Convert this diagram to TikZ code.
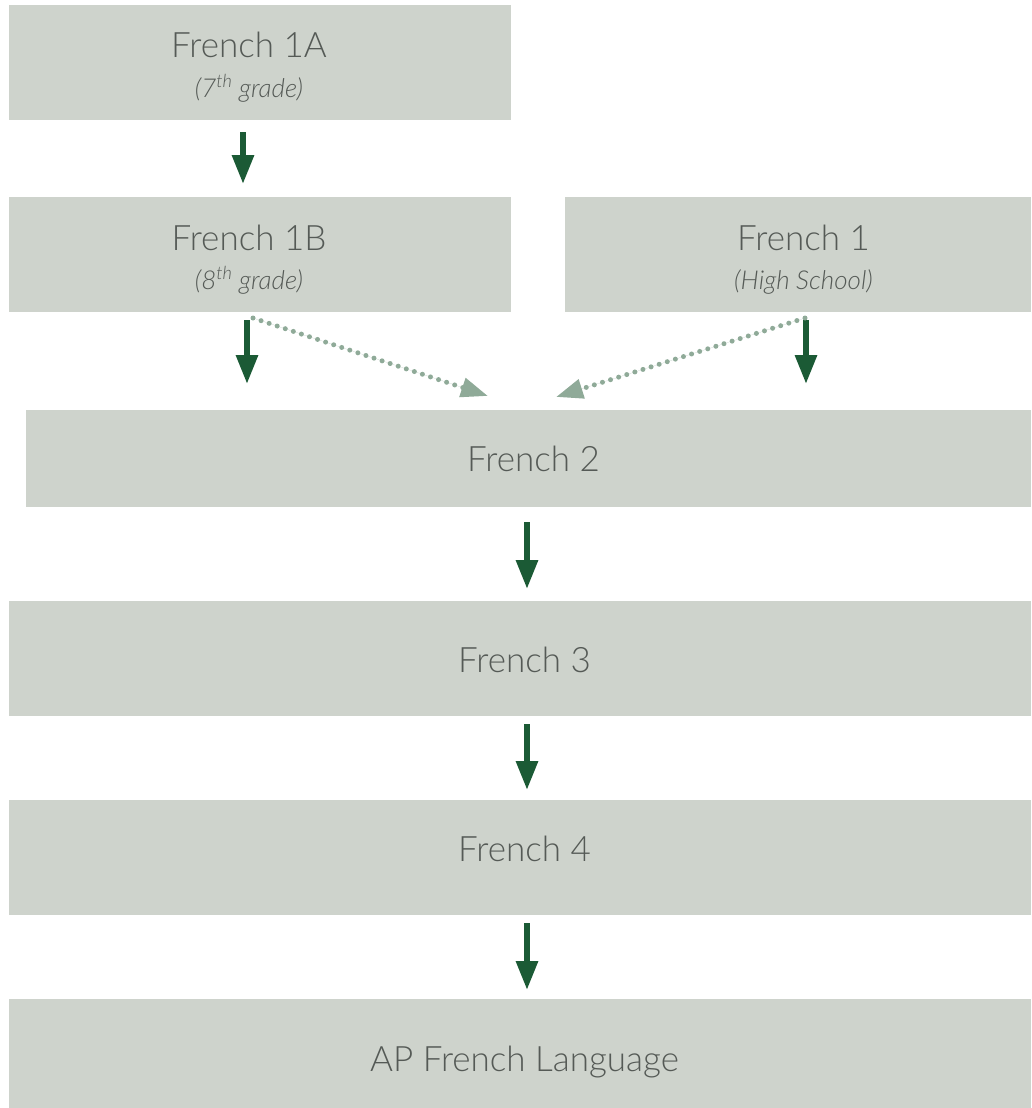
\documentclass[tikz,border=0pt]{standalone}
\usepackage{fontspec}
\IfFontExistsTF{Lato Light}{\setmainfont{Lato Light}[ItalicFont={Lato Light Italic}]}{\setmainfont{Lato}}
\usetikzlibrary{arrows.meta,calc}
\definecolor{boxfill}{HTML}{CED3CC}
\definecolor{txt}{HTML}{555A56}
\definecolor{dkgreen}{HTML}{1B5A35}
\definecolor{ltgreen}{HTML}{8FAA98}
\begin{document}
\begin{tikzpicture}[x=1pt,y=-1pt,
  box/.style={rectangle,fill=boxfill,inner sep=0pt,outer sep=0pt},
  title/.style={anchor=base,inner sep=0pt,text=txt,font=\fontsize{35}{40}\selectfont},
  sub/.style={anchor=base,inner sep=0pt,text=txt,font=\fontsize{26}{30}\selectfont\itshape},
  arr/.style={draw=dkgreen,line width=6pt,-{Triangle[width=21pt,length=29pt]},fill=dkgreen},
  darr/.style={draw=ltgreen,line width=5pt,line cap=round,dash pattern=on 0pt off 8.5pt,
     -{Triangle[width=19pt,length=27pt,line cap=butt]},fill=ltgreen}
]
\useasboundingbox (0,0) rectangle (1031,1108);
% boxes
\node[box,minimum width=502pt,minimum height=115pt] (f1a) at (260,62.5) {};
\node[box,minimum width=502pt,minimum height=115pt] (f1b) at (260,254.5) {};
\node[box,minimum width=466pt,minimum height=115pt] (f1) at (798,254.5) {};
\node[box,minimum width=1005pt,minimum height=97pt] (f2) at (528.5,458.5) {};
\node[box,minimum width=1022pt,minimum height=115pt] (f3) at (520,658.5) {};
\node[box,minimum width=1022pt,minimum height=115pt] (f4) at (520,857.5) {};
\node[box,minimum width=1022pt,minimum height=109pt] (ap) at (520,1053.5) {};
% texts
\node[title] (t1a) at (249,58) {French 1A};
\node[sub] (s1a) at (249,97) {(7\textsuperscript{th} grade)};
\node[title] (t1b) at (249,250) {French 1B};
\node[sub] (s1b) at (249,289) {(8\textsuperscript{th} grade)};
\node[title] (t1) at (803.5,250) {French 1};
\node[sub] (s1) at (803.5,289) {(High School)};
\node[title] (t2) at (533.5,471) {French 2};
\node[title] (t3) at (524.5,672) {French 3};
\node[title] (t4) at (524.5,861) {French 4};
\node[title] (tap) at (524.5,1071) {AP French Language};
% coordinates for dotted arrow ends
\coordinate (d1s) at (253,318);
\coordinate (d1e) at (488,396);
\coordinate (d2s) at (805,318);
\coordinate (d2e) at (556,397);
% solid arrows
\draw[arr,shorten <=12pt,shorten >=13pt] ([xshift=234pt]f1a.south west) -- ([xshift=234pt]f1a.south west |- f1b.north);
\draw[arr,shorten <=8pt,shorten >=26pt] ([xshift=238pt]f1b.south west) -- ([xshift=238pt]f1b.south west |- f2.north);
\draw[arr,shorten <=8pt,shorten >=26pt] ([xshift=241pt]f1.south west) -- ([xshift=241pt]f1.south west |- f2.north);
\draw[arr,shorten <=15pt,shorten >=12pt] ([xshift=-1.5pt]f2.south) -- ([xshift=-1.5pt]f2.south |- f3.north);
\draw[arr,shorten <=8pt,shorten >=10pt] ([xshift=7pt]f3.south) -- ([xshift=7pt]f3.south |- f4.north);
\draw[arr,shorten <=8pt,shorten >=9pt] ([xshift=7pt]f4.south) -- ([xshift=7pt]f4.south |- ap.north);
% dotted arrows
\draw[darr] (d1s) -- (d1e);
\draw[darr] (d2s) -- (d2e);
\end{tikzpicture}
\end{document}
